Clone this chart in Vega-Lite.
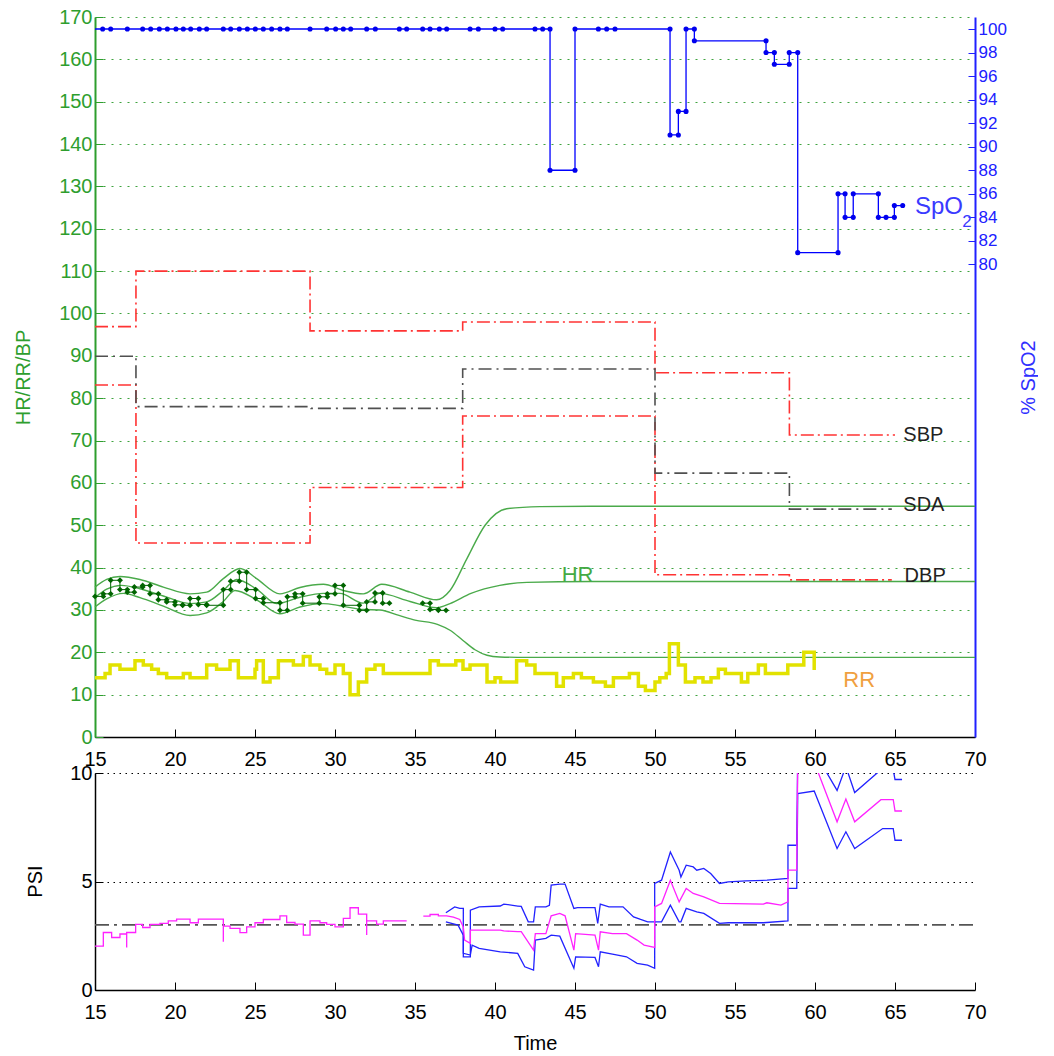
{
"$schema": "https://vega.github.io/schema/vega-lite/v6.json",
"padding": {"left": 13, "top": 7, "right": 0, "bottom": 0},
"background": "white",
"spacing": 36,
"bounds": "flush",
"config": {"view": {"stroke": null}, "font": "Liberation Sans", "axis": {"labelFont": "Liberation Sans", "titleFont": "Liberation Sans", "titleFontWeight": "normal"}},
"datasets": {
"bp": [
{"s":"SBP","t":15,"v":96.9},{"s":"SBP","t":17.56,"v":110},{"s":"SBP","t":28.44,"v":95.9},{"s":"SBP","t":37.98,"v":98},{"s":"SBP","t":50,"v":86},{"s":"SBP","t":58.4,"v":71.3},{"s":"SBP","t":65.0,"v":71.3},
{"s":"DBP","t":15,"v":83.1},{"s":"DBP","t":17.56,"v":45.8},{"s":"DBP","t":28.44,"v":58.9},{"s":"DBP","t":37.98,"v":75.8},{"s":"DBP","t":50,"v":38.3},{"s":"DBP","t":58.4,"v":37.1},{"s":"DBP","t":64.8,"v":37.1},
{"s":"SDA","t":15,"v":89.9},{"s":"SDA","t":17.56,"v":78},{"s":"SDA","t":28.5,"v":77.6},{"s":"SDA","t":37.98,"v":86.9},{"s":"SDA","t":50,"v":62.3},{"s":"SDA","t":58.4,"v":53.8},{"s":"SDA","t":64.8,"v":53.8}
],
"hrband": [
{"s":"HU","t":15.0,"v":35.4},{"s":"HU","t":15.73,"v":37.2},{"s":"HU","t":16.56,"v":37.9},{"s":"HU","t":17.81,"v":37.2},{"s":"HU","t":19.27,"v":35.4},{"s":"HU","t":20.94,"v":33.8},{"s":"HU","t":21.98,"v":34.2},{"s":"HU","t":23.02,"v":37.4},{"s":"HU","t":24.06,"v":39.8},{"s":"HU","t":25.1,"v":37.4},{"s":"HU","t":26.56,"v":33.8},{"s":"HU","t":27.81,"v":35.3},{"s":"HU","t":29.27,"v":36.05},{"s":"HU","t":30.52,"v":34.6},{"s":"HU","t":31.77,"v":33.8},{"s":"HU","t":32.92,"v":36.05},{"s":"HU","t":34.69,"v":34.2},{"s":"HU","t":36.35,"v":32.4},{"s":"HU","t":37.19,"v":34.6},{"s":"HU","t":38.23,"v":42.0},{"s":"HU","t":39.38,"v":50.0},{"s":"HU","t":40.73,"v":53.9},{"s":"HU","t":42.81,"v":54.4},{"s":"HU","t":46,"v":54.5},{"s":"HU","t":70,"v":54.5},
{"s":"HC","t":15.0,"v":32.9},{"s":"HC","t":15.73,"v":34.9},{"s":"HC","t":16.66,"v":35.8},{"s":"HC","t":17.81,"v":35.0},{"s":"HC","t":19.27,"v":33.3},{"s":"HC","t":20.94,"v":31.5},{"s":"HC","t":21.98,"v":31.9},{"s":"HC","t":23.02,"v":34.6},{"s":"HC","t":23.85,"v":37.2},{"s":"HC","t":25.1,"v":34.9},{"s":"HC","t":26.35,"v":31.5},{"s":"HC","t":27.81,"v":33.0},{"s":"HC","t":29.27,"v":33.9},{"s":"HC","t":30.31,"v":33.9},{"s":"HC","t":31.77,"v":31.6},{"s":"HC","t":32.81,"v":33.9},{"s":"HC","t":34.69,"v":32.0},{"s":"HC","t":36.35,"v":30.5},{"s":"HC","t":37.19,"v":31.5},{"s":"HC","t":38.5,"v":33.9},{"s":"HC","t":40.3,"v":35.8},{"s":"HC","t":42.0,"v":36.5},{"s":"HC","t":46,"v":36.7},{"s":"HC","t":70,"v":36.7},
{"s":"HL","t":15.0,"v":30.7},{"s":"HL","t":15.73,"v":32.6},{"s":"HL","t":16.77,"v":33.9},{"s":"HL","t":17.81,"v":32.9},{"s":"HL","t":19.27,"v":30.9},{"s":"HL","t":20.94,"v":28.7},{"s":"HL","t":21.98,"v":29.3},{"s":"HL","t":23.02,"v":32.0},{"s":"HL","t":23.75,"v":34.6},{"s":"HL","t":25.1,"v":32.4},{"s":"HL","t":26.56,"v":29.1},{"s":"HL","t":27.81,"v":30.7},{"s":"HL","t":29.27,"v":31.5},{"s":"HL","t":30.31,"v":31.0},{"s":"HL","t":31.77,"v":30.1},{"s":"HL","t":32.81,"v":30.0},{"s":"HL","t":34.0,"v":28.7},{"s":"HL","t":35.0,"v":27.6},{"s":"HL","t":36.4,"v":26.6},{"s":"HL","t":37.19,"v":25.2},{"s":"HL","t":38.0,"v":22.8},{"s":"HL","t":38.75,"v":20.6},{"s":"HL","t":39.5,"v":19.3},{"s":"HL","t":40.3,"v":18.9},{"s":"HL","t":42,"v":18.8},{"s":"HL","t":70,"v":18.8}
],
"hrm": [
{"g":1,"t":15.0,"v":33.2},{"g":1,"t":15.52,"v":33.2},{"g":1,"t":15.52,"v":33.8},{"g":1,"t":15.98,"v":33.8},{"g":1,"t":15.98,"v":37.0},{"g":1,"t":16.56,"v":37.0},{"g":1,"t":16.56,"v":34.8},{"g":1,"t":17.02,"v":34.8},{"g":1,"t":17.02,"v":34.2},{"g":1,"t":17.46,"v":34.2},{"g":1,"t":17.46,"v":35.4},{"g":1,"t":17.98,"v":35.4},{"g":1,"t":17.98,"v":35.8},{"g":1,"t":18.44,"v":35.8},{"g":1,"t":18.44,"v":33.8},{"g":1,"t":18.96,"v":33.8},{"g":1,"t":18.96,"v":32.4},{"g":1,"t":19.48,"v":32.4},{"g":1,"t":19.48,"v":31.9},{"g":1,"t":20.0,"v":31.9},{"g":1,"t":20.0,"v":31.2},{"g":1,"t":20.48,"v":31.2},{"g":1,"t":20.48,"v":31.1},{"g":1,"t":20.94,"v":31.1},{"g":1,"t":20.94,"v":32.7},{"g":1,"t":21.46,"v":32.7},{"g":1,"t":21.46,"v":31.3},{"g":1,"t":21.98,"v":31.3},{"g":1,"t":21.98,"v":31.1},{"g":1,"t":23.02,"v":31.1},{"g":1,"t":23.02,"v":34.8},{"g":1,"t":23.48,"v":34.8},{"g":1,"t":23.48,"v":36.8},{"g":1,"t":24.02,"v":36.8},{"g":1,"t":24.02,"v":38.9},{"g":1,"t":24.48,"v":38.9},{"g":1,"t":24.48,"v":34.8},{"g":1,"t":25.04,"v":34.8},{"g":1,"t":25.04,"v":32.7},{"g":1,"t":25.52,"v":32.7},{"g":1,"t":25.52,"v":31.7},{"g":1,"t":26.56,"v":31.7},{"g":1,"t":26.56,"v":29.9},{"g":1,"t":27.02,"v":29.9},{"g":1,"t":27.02,"v":33.1},{"g":1,"t":27.5,"v":33.1},{"g":1,"t":27.5,"v":33.8},{"g":1,"t":27.98,"v":33.8},{"g":1,"t":27.98,"v":31.6},{"g":1,"t":29.02,"v":31.6},{"g":1,"t":29.02,"v":33.1},{"g":1,"t":29.52,"v":33.1},{"g":1,"t":29.52,"v":33.8},{"g":1,"t":30.0,"v":33.8},{"g":1,"t":30.0,"v":35.8},{"g":1,"t":30.52,"v":35.8},{"g":1,"t":30.52,"v":31.1},{"g":1,"t":31.52,"v":31.1},{"g":1,"t":31.52,"v":29.9},{"g":1,"t":31.98,"v":29.9},{"g":1,"t":31.98,"v":31.9},{"g":1,"t":32.5,"v":31.9},{"g":1,"t":32.5,"v":34.0},{"g":1,"t":32.98,"v":34.0},{"g":1,"t":32.98,"v":31.6},{"g":1,"t":33.4,"v":31.6},
{"g":2,"t":35.48,"v":31.6},{"g":2,"t":35.94,"v":31.6},{"g":2,"t":35.94,"v":30.1},{"g":2,"t":36.46,"v":30.1},{"g":2,"t":36.46,"v":29.9},{"g":2,"t":36.94,"v":29.9}
],
"rr": [
{"t":15.0,"v":14},{"t":15.63,"v":15},{"t":15.94,"v":17},{"t":16.56,"v":16},{"t":17.5,"v":18},{"t":18.02,"v":17},{"t":18.54,"v":16},{"t":18.96,"v":15},{"t":19.48,"v":14},{"t":20.52,"v":15},{"t":20.94,"v":14},{"t":21.98,"v":17},{"t":22.6,"v":16},{"t":23.44,"v":18},{"t":23.96,"v":14},{"t":25.0,"v":16},{"t":25.1,"v":18},{"t":25.52,"v":13},{"t":25.94,"v":14},{"t":26.46,"v":18},{"t":27.4,"v":17},{"t":28.02,"v":19},{"t":28.44,"v":17},{"t":29.06,"v":16},{"t":29.48,"v":15},{"t":30.0,"v":17},{"t":30.52,"v":15},{"t":30.94,"v":10},{"t":31.46,"v":13},{"t":31.98,"v":16},{"t":32.5,"v":17},{"t":33.02,"v":15},{"t":35.94,"v":18},{"t":36.46,"v":17},{"t":37.55,"v":18},{"t":38.0,"v":16},{"t":38.44,"v":17},{"t":39.5,"v":13},{"t":40.0,"v":14},{"t":40.35,"v":13},{"t":41.35,"v":18},{"t":41.98,"v":17},{"t":42.5,"v":15},{"t":43.85,"v":12},{"t":44.27,"v":14},{"t":44.9,"v":15},{"t":45.4,"v":14},{"t":46.15,"v":13},{"t":46.9,"v":12},{"t":47.4,"v":14},{"t":48.4,"v":15},{"t":48.96,"v":12},{"t":49.4,"v":11},{"t":50.0,"v":13},{"t":50.3,"v":14},{"t":50.7,"v":15},{"t":50.9,"v":22},{"t":51.46,"v":17},{"t":51.9,"v":13},{"t":52.5,"v":14},{"t":53.0,"v":13},{"t":53.5,"v":14},{"t":53.96,"v":16},{"t":54.4,"v":15},{"t":55.4,"v":13},{"t":55.8,"v":15},{"t":56.46,"v":17},{"t":56.9,"v":15},{"t":58.3,"v":17},{"t":59.3,"v":20},{"t":59.95,"v":15.8}
],
"spo": [
{"t":15.0,"v":100,"m":0},{"t":15.48,"v":100,"m":1},{"t":15.98,"v":100,"m":1},{"t":17.02,"v":100,"m":1},{"t":17.98,"v":100,"m":1},{"t":18.48,"v":100,"m":1},{"t":19.02,"v":100,"m":1},{"t":19.52,"v":100,"m":1},{"t":20.06,"v":100,"m":1},{"t":20.52,"v":100,"m":1},{"t":20.98,"v":100,"m":1},{"t":21.52,"v":100,"m":1},{"t":21.98,"v":100,"m":1},{"t":23.02,"v":100,"m":1},{"t":23.48,"v":100,"m":1},{"t":24.02,"v":100,"m":1},{"t":24.52,"v":100,"m":1},{"t":25.02,"v":100,"m":1},{"t":25.52,"v":100,"m":1},{"t":26.04,"v":100,"m":1},{"t":26.56,"v":100,"m":1},{"t":27.02,"v":100,"m":1},{"t":28.44,"v":100,"m":1},{"t":29.48,"v":100,"m":1},{"t":30.04,"v":100,"m":1},{"t":30.52,"v":100,"m":1},{"t":30.98,"v":100,"m":1},{"t":31.98,"v":100,"m":1},{"t":32.52,"v":100,"m":1},{"t":34.02,"v":100,"m":1},{"t":34.48,"v":100,"m":1},{"t":35.48,"v":100,"m":1},{"t":35.94,"v":100,"m":1},{"t":36.52,"v":100,"m":1},{"t":36.98,"v":100,"m":1},{"t":38.44,"v":100,"m":1},{"t":38.96,"v":100,"m":1},{"t":40.0,"v":100,"m":1},{"t":40.48,"v":100,"m":1},{"t":42.5,"v":100,"m":1},{"t":42.98,"v":100,"m":1},{"t":43.44,"v":100,"m":1},
{"t":43.44,"v":88,"m":1},{"t":45.0,"v":88,"m":1},{"t":45.0,"v":100,"m":1},{"t":46.46,"v":100,"m":1},{"t":46.98,"v":100,"m":1},{"t":47.5,"v":100,"m":1},{"t":50.94,"v":100,"m":1},{"t":50.94,"v":91,"m":1},{"t":51.46,"v":91,"m":1},{"t":51.46,"v":93,"m":1},{"t":51.94,"v":93,"m":1},{"t":51.94,"v":100,"m":1},{"t":52.46,"v":100,"m":1},{"t":52.46,"v":99,"m":1},{"t":56.94,"v":99,"m":1},{"t":56.94,"v":98,"m":1},{"t":57.46,"v":98,"m":1},{"t":57.46,"v":97,"m":1},{"t":58.39,"v":97,"m":1},{"t":58.39,"v":98,"m":1},{"t":58.92,"v":98,"m":1},{"t":58.92,"v":81,"m":1},{"t":61.44,"v":81,"m":1},{"t":61.44,"v":86,"m":1},{"t":61.88,"v":86,"m":1},{"t":61.88,"v":84,"m":1},{"t":62.39,"v":84,"m":1},{"t":62.39,"v":86,"m":1},{"t":63.96,"v":86,"m":1},{"t":63.96,"v":84,"m":1},{"t":64.44,"v":84,"m":1},{"t":64.96,"v":84,"m":1},{"t":64.96,"v":85,"m":1},{"t":65.48,"v":85,"m":1}
],
"lbl": [
{"k":"bp","text":"SBP","t":65.52,"v":71.3},{"k":"bp","text":"SDA","t":65.52,"v":54.8},{"k":"bp","text":"DBP","t":65.6,"v":38.0},{"k":"hr","text":"HR","t":44.17,"v":38.25},{"k":"rr","text":"RR","t":61.77,"v":13.46},{"k":"spo","text":"SpO","t":66.25,"v":125.1},{"k":"sub","text":"2","t":69.2,"v":121.6}
],
"psi": [
{"s":"M1","t":15.0,"v":2.02},{"s":"M1","t":15.52,"v":2.65},{"s":"M1","t":16.04,"v":2.42},{"s":"M1","t":16.56,"v":2.58},{"s":"M1","t":16.98,"v":1.96},{"s":"M1","t":16.98,"v":2.65},{"s":"M1","t":17.54,"v":3.02},{"s":"M1","t":17.98,"v":2.88},{"s":"M1","t":18.44,"v":3.02},{"s":"M1","t":19.06,"v":3.07},{"s":"M1","t":19.58,"v":3.19},{"s":"M1","t":20.1,"v":3.27},{"s":"M1","t":20.94,"v":3.1},{"s":"M1","t":21.46,"v":3.27},{"s":"M1","t":23.02,"v":2.22},{"s":"M1","t":23.02,"v":2.94},{"s":"M1","t":23.44,"v":2.84},{"s":"M1","t":24.06,"v":2.64},{"s":"M1","t":24.48,"v":2.91},{"s":"M1","t":25.0,"v":3.1},{"s":"M1","t":25.52,"v":3.25},{"s":"M1","t":26.56,"v":3.42},{"s":"M1","t":26.98,"v":3.11},{"s":"M1","t":27.5,"v":3.04},{"s":"M1","t":28.02,"v":2.53},{"s":"M1","t":28.44,"v":3.19},{"s":"M1","t":29.06,"v":3.1},{"s":"M1","t":29.48,"v":3.02},{"s":"M1","t":30.0,"v":2.91},{"s":"M1","t":30.52,"v":3.3},{"s":"M1","t":30.94,"v":3.79},{"s":"M1","t":31.46,"v":3.5},{"s":"M1","t":31.98,"v":2.53},{"s":"M1","t":31.98,"v":3.19},{"s":"M1","t":32.6,"v":3.04},{"s":"M1","t":33.02,"v":3.19},{"s":"M1","t":34.48,"v":3.19},
{"s":"M2","t":35.52,"v":3.4},{"s":"M2","t":35.94,"v":3.4},{"s":"M2","t":35.94,"v":3.48},{"s":"M2","t":36.46,"v":3.48},{"s":"M2","t":36.46,"v":3.42},{"s":"M2","t":36.98,"v":3.42},{"s":"M2","t":37.4,"v":3.36},{"s":"M2","t":37.8,"v":3.25},{"s":"M2","t":38.02,"v":2.9},{"s":"M2","t":38.1,"v":2.3},{"s":"M2","t":38.46,"v":2.15},{"s":"M2","t":38.46,"v":2.76},{"s":"M2","t":40.33,"v":2.76},{"s":"M2","t":40.55,"v":2.72},{"s":"M2","t":41.42,"v":2.69},{"s":"M2","t":41.64,"v":2.69},{"s":"M2","t":42.41,"v":1.84},{"s":"M2","t":42.52,"v":2.6},{"s":"M2","t":43.18,"v":2.6},{"s":"M2","t":43.51,"v":3.42},{"s":"M2","t":44.05,"v":3.53},{"s":"M2","t":44.38,"v":3.42},{"s":"M2","t":44.93,"v":1.84},{"s":"M2","t":45.04,"v":2.6},{"s":"M2","t":46.25,"v":2.53},{"s":"M2","t":46.47,"v":1.84},{"s":"M2","t":46.58,"v":2.68},{"s":"M2","t":47.34,"v":2.6},{"s":"M2","t":48.22,"v":2.6},{"s":"M2","t":48.88,"v":2.3},{"s":"M2","t":49.32,"v":2.07},{"s":"M2","t":49.98,"v":1.96},{"s":"M2","t":49.98,"v":3.83},{"s":"M2","t":50.41,"v":3.99},{"s":"M2","t":50.96,"v":5.06},{"s":"M2","t":51.51,"v":4.06},{"s":"M2","t":51.95,"v":4.68},{"s":"M2","t":52.39,"v":4.45},{"s":"M2","t":53.05,"v":4.29},{"s":"M2","t":54.03,"v":3.99},{"s":"M2","t":56.77,"v":3.96},{"s":"M2","t":56.99,"v":4.02},{"s":"M2","t":57.87,"v":3.91},{"s":"M2","t":58.31,"v":4.06},{"s":"M2","t":58.31,"v":5.52},{"s":"M2","t":58.86,"v":5.52},{"s":"M2","t":58.92,"v":10.4},{"s":"M2","t":59.95,"v":10.5},{"s":"M2","t":61.38,"v":7.75},{"s":"M2","t":61.93,"v":8.8},{"s":"M2","t":62.48,"v":7.75},{"s":"M2","t":64.12,"v":8.77},{"s":"M2","t":64.89,"v":8.77},{"s":"M2","t":65.0,"v":8.25},{"s":"M2","t":65.44,"v":8.25},
{"s":"U","t":36.93,"v":3.56},{"s":"U","t":37.48,"v":3.83},{"s":"U","t":37.8,"v":3.76},{"s":"U","t":38.02,"v":3.76},{"s":"U","t":38.02,"v":1.53},{"s":"U","t":38.46,"v":1.53},{"s":"U","t":38.46,"v":3.68},{"s":"U","t":39.01,"v":3.83},{"s":"U","t":40.33,"v":3.87},{"s":"U","t":40.55,"v":3.96},{"s":"U","t":41.42,"v":3.87},{"s":"U","t":41.64,"v":3.85},{"s":"U","t":42.08,"v":3.14},{"s":"U","t":42.41,"v":3.14},{"s":"U","t":42.52,"v":3.83},{"s":"U","t":43.18,"v":3.83},{"s":"U","t":43.4,"v":3.9},{"s":"U","t":43.51,"v":4.83},{"s":"U","t":44.05,"v":4.88},{"s":"U","t":44.38,"v":4.88},{"s":"U","t":44.93,"v":3.76},{"s":"U","t":45.15,"v":3.8},{"s":"U","t":46.25,"v":3.8},{"s":"U","t":46.42,"v":3.07},{"s":"U","t":46.58,"v":3.96},{"s":"U","t":47.12,"v":3.83},{"s":"U","t":48.0,"v":3.83},{"s":"U","t":48.66,"v":3.37},{"s":"U","t":49.1,"v":3.25},{"s":"U","t":49.54,"v":3.14},{"s":"U","t":49.98,"v":3.14},{"s":"U","t":49.98,"v":4.91},{"s":"U","t":50.41,"v":5.06},{"s":"U","t":50.96,"v":6.36},{"s":"U","t":51.51,"v":5.52},{"s":"U","t":51.62,"v":5.21},{"s":"U","t":51.95,"v":5.75},{"s":"U","t":52.39,"v":5.67},{"s":"U","t":52.61,"v":5.52},{"s":"U","t":53.05,"v":5.6},{"s":"U","t":53.48,"v":5.37},{"s":"U","t":54.03,"v":4.91},{"s":"U","t":54.58,"v":4.98},{"s":"U","t":55.68,"v":5.03},{"s":"U","t":57.0,"v":5.06},{"s":"U","t":58.31,"v":5.14},{"s":"U","t":58.31,"v":6.67},{"s":"U","t":58.86,"v":6.67},{"s":"U","t":58.92,"v":10.9},{"s":"U","t":59.95,"v":11.0},{"s":"U","t":61.38,"v":9.2},{"s":"U","t":61.93,"v":10.3},{"s":"U","t":62.48,"v":9.1},{"s":"U","t":64.12,"v":10.15},{"s":"U","t":64.89,"v":10.15},{"s":"U","t":65.0,"v":9.7},{"s":"U","t":65.44,"v":9.7},
{"s":"L","t":36.93,"v":3.14},{"s":"L","t":37.69,"v":2.99},{"s":"L","t":38.02,"v":2.53},{"s":"L","t":38.02,"v":1.69},{"s":"L","t":38.46,"v":1.61},{"s":"L","t":38.57,"v":2.07},{"s":"L","t":39.01,"v":1.92},{"s":"L","t":40.33,"v":1.76},{"s":"L","t":41.42,"v":1.69},{"s":"L","t":41.86,"v":1.07},{"s":"L","t":42.41,"v":0.92},{"s":"L","t":42.52,"v":2.3},{"s":"L","t":43.18,"v":2.38},{"s":"L","t":43.51,"v":2.53},{"s":"L","t":44.05,"v":2.48},{"s":"L","t":44.93,"v":1.0},{"s":"L","t":45.04,"v":1.53},{"s":"L","t":46.25,"v":1.5},{"s":"L","t":46.47,"v":1.07},{"s":"L","t":46.58,"v":1.76},{"s":"L","t":47.34,"v":1.65},{"s":"L","t":48.22,"v":1.53},{"s":"L","t":48.88,"v":1.23},{"s":"L","t":49.54,"v":1.15},{"s":"L","t":49.98,"v":1.0},{"s":"L","t":49.98,"v":3.14},{"s":"L","t":50.41,"v":3.14},{"s":"L","t":50.96,"v":3.91},{"s":"L","t":51.51,"v":3.14},{"s":"L","t":51.62,"v":3.14},{"s":"L","t":51.95,"v":3.76},{"s":"L","t":52.61,"v":3.6},{"s":"L","t":53.05,"v":3.53},{"s":"L","t":54.03,"v":3.07},{"s":"L","t":54.58,"v":3.1},{"s":"L","t":56.77,"v":3.1},{"s":"L","t":58.31,"v":3.19},{"s":"L","t":58.31,"v":4.68},{"s":"L","t":58.86,"v":4.68},{"s":"L","t":58.92,"v":9.05},{"s":"L","t":59.95,"v":9.17},{"s":"L","t":61.38,"v":6.52},{"s":"L","t":61.93,"v":7.29},{"s":"L","t":62.48,"v":6.52},{"s":"L","t":64.23,"v":7.44},{"s":"L","t":64.89,"v":7.44},{"s":"L","t":65.0,"v":6.9},{"s":"L","t":65.44,"v":6.9}
],
"ref": [{"t":15,"v":3},{"t":70,"v":3}]
},
"vconcat": [
{
"width": 880, "height": 720,
"resolve": {"scale": {"y": "independent"}, "axis": {"y": "independent"}},
"layer": [
{
"encoding": {
"x": {"field": "t", "type": "quantitative", "scale": {"domain": [15, 70], "nice": false, "zero": false},
 "axis": {"values": [15,20,25,30,35,40,45,50,55,60,65,70], "title": null, "labelFontSize": 20, "labelColor": "#000", "domainColor": "#000", "domainWidth": 1.5, "tickColor": "#000", "tickSize": -8, "labelPadding": 20, "labelFlush": false, "labelOverlap": false, "grid": false}},
"y": {"field": "v", "type": "quantitative", "scale": {"domain": [0, 170], "nice": false, "zero": false},
 "axis": {"values": [0,10,20,30,40,50,60,70,80,90,100,110,120,130,140,150,160,170], "grid": true, "gridColor": "#3fa33f", "gridDash": [2, 6], "gridWidth": 1.2, "domainColor": "#2e9e2e", "domainWidth": 2, "tickColor": "#2e9e2e", "tickSize": -8, "labelColor": "#2e9e2e", "labelFontSize": 20, "labelPadding": 11, "labelOverlap": false, "title": "HR/RR/BP", "titleColor": "#2e9e2e", "titleFontSize": 20, "titleX": -62, "titleY": 360}}
},
"layer": [
{"data": {"name": "bp"}, "transform": [{"filter": "datum.s !== 'SDA'"}], "mark": {"type": "line", "interpolate": "step-after", "color": "#ff3333", "strokeWidth": 1.6, "strokeDash": [13, 4, 2, 4]}, "encoding": {"detail": {"field": "s"}, "order": {"value": null}}},
{"data": {"name": "bp"}, "transform": [{"filter": "datum.s === 'SDA'"}], "mark": {"type": "line", "interpolate": "step-after", "color": "#505050", "strokeWidth": 1.6, "strokeDash": [13, 5, 2, 5]}, "encoding": {"order": {"value": null}}},
{"data": {"name": "hrband"}, "mark": {"type": "line", "interpolate": "monotone", "color": "#4aaa4a", "strokeWidth": 1.4}, "encoding": {"detail": {"field": "s"}}},
{"data": {"name": "hrm"}, "mark": {"type": "line", "color": "#006400", "strokeWidth": 1}, "encoding": {"detail": {"field": "g"}, "order": {"value": null}}},
{"data": {"name": "hrm"}, "mark": {"type": "point", "shape": "diamond", "filled": true, "size": 35, "color": "#006400", "opacity": 1}},
{"data": {"name": "rr"}, "mark": {"type": "line", "interpolate": "step-after", "color": "#e2e200", "strokeWidth": 3.5}, "encoding": {"order": {"value": null}}},
{"data": {"name": "lbl"}, "transform": [{"filter": "datum.k === 'bp'"}], "mark": {"type": "text", "align": "left", "baseline": "middle", "fontSize": 20, "font": "Liberation Sans", "color": "#222222"}, "encoding": {"text": {"field": "text"}}},
{"data": {"name": "lbl"}, "transform": [{"filter": "datum.k === 'hr'"}], "mark": {"type": "text", "align": "left", "baseline": "middle", "fontSize": 22, "font": "Liberation Sans", "color": "#44aa44"}, "encoding": {"text": {"field": "text"}}},
{"data": {"name": "lbl"}, "transform": [{"filter": "datum.k === 'rr'"}], "mark": {"type": "text", "align": "left", "baseline": "middle", "fontSize": 22, "font": "Liberation Sans", "color": "#f0a040"}, "encoding": {"text": {"field": "text"}}},
{"data": {"name": "lbl"}, "transform": [{"filter": "datum.k === 'spo'"}], "mark": {"type": "text", "align": "left", "baseline": "middle", "fontSize": 24, "font": "Liberation Sans", "color": "#3a3aff"}, "encoding": {"text": {"field": "text"}}},
{"data": {"name": "lbl"}, "transform": [{"filter": "datum.k === 'sub'"}], "mark": {"type": "text", "align": "left", "baseline": "middle", "fontSize": 17, "font": "Liberation Sans", "color": "#3a3aff"}, "encoding": {"text": {"field": "text"}}}
]
},
{
"encoding": {
"x": {"field": "t", "type": "quantitative", "scale": {"domain": [15, 70], "nice": false, "zero": false},
 "axis": {"values": [15,20,25,30,35,40,45,50,55,60,65,70], "title": null, "labelFontSize": 20, "labelColor": "#000", "domainColor": "#000", "domainWidth": 1.5, "tickColor": "#000", "tickSize": -8, "labelPadding": 20, "labelFlush": false, "labelOverlap": false, "grid": false}},
"y": {"field": "v", "type": "quantitative", "scale": {"domain": [39.85, 101.02], "nice": false, "zero": false},
 "axis": {"orient": "right", "values": [80,82,84,86,88,90,92,94,96,98,100], "grid": false, "domainColor": "#2020ff", "domainWidth": 2, "tickColor": "#2020ff", "tickSize": -7, "labelColor": "#2020ff", "labelFontSize": 17, "labelPadding": 10, "labelOverlap": false, "title": "% SpO2", "titleColor": "#3030ff", "titleFontSize": 20, "titleAngle": 270, "titleBaseline": "top", "titleX": 43, "titleY": 360}}
},
"layer": [
{"data": {"name": "spo"}, "mark": {"type": "line", "color": "#0000ff", "strokeWidth": 1.3}, "encoding": {"order": {"value": null}}},
{"data": {"name": "spo"}, "transform": [{"filter": "datum.m === 1"}], "mark": {"type": "point", "shape": "circle", "filled": true, "size": 26, "color": "#0000ee", "opacity": 1}}
]
}
]
},
{
"width": 880, "height": 217,
"encoding": {
"x": {"field": "t", "type": "quantitative", "scale": {"domain": [15, 70], "nice": false, "zero": false},
 "axis": {"values": [15,20,25,30,35,40,45,50,55,60,65,70], "title": "Time", "titleFontSize": 20, "titleColor": "#000", "titleX": 440, "titleY": 43, "titleBaseline": "top", "labelFontSize": 20, "labelColor": "#000", "domainColor": "#000", "domainWidth": 1.5, "tickColor": "#000", "tickSize": -8, "labelPadding": 20, "labelFlush": false, "labelOverlap": false, "grid": false}},
"y": {"field": "v", "type": "quantitative", "scale": {"domain": [0, 10], "nice": false, "zero": false},
 "axis": {"values": [0, 5, 10], "grid": true, "gridColor": "#000", "gridDash": [1.5, 4.5], "gridWidth": 1, "domainColor": "#000", "domainWidth": 1.5, "tickColor": "#000", "tickSize": -8, "labelColor": "#000", "labelFontSize": 20, "labelPadding": 11, "title": "PSI", "titleColor": "#000", "titleFontSize": 20, "titleX": -50, "titleY": 108}}
},
"layer": [
{"data": {"name": "ref"}, "mark": {"type": "line", "color": "#555555", "strokeWidth": 1.6, "strokeDash": [14, 5, 3, 5]}},
{"data": {"name": "psi"}, "transform": [{"filter": "datum.s === 'M1'"}], "mark": {"type": "line", "interpolate": "step-after", "color": "#ff22ff", "strokeWidth": 1.3, "clip": true}, "encoding": {"order": {"value": null}}},
{"data": {"name": "psi"}, "transform": [{"filter": "datum.s === 'U' || datum.s === 'L'"}], "mark": {"type": "line", "color": "#2222ff", "strokeWidth": 1.3, "clip": true}, "encoding": {"detail": {"field": "s"}, "order": {"value": null}}},
{"data": {"name": "psi"}, "transform": [{"filter": "datum.s === 'M2'"}], "mark": {"type": "line", "color": "#ff22ff", "strokeWidth": 1.3, "clip": true}, "encoding": {"order": {"value": null}}}
]
}
]
}
